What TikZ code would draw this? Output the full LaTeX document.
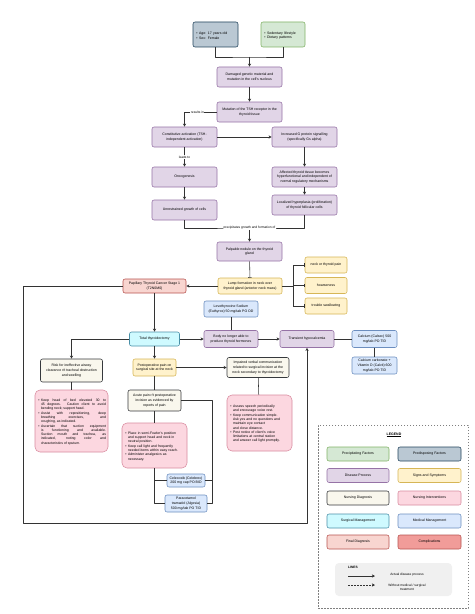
\documentclass[tikz,border=0pt]{standalone}
\usepackage{fontspec}
\setmainfont{Liberation Sans}
\usepackage{enumitem}
\setlist[itemize]{nosep,leftmargin=8pt,labelsep=3pt,label=\textbullet}
\usetikzlibrary{arrows.meta}
\definecolor{lnc}{HTML}{333333}
\definecolor{predisF}{HTML}{BAC8D3} \definecolor{predisD}{HTML}{23445D}
\definecolor{precipF}{HTML}{D5E8D4} \definecolor{precipD}{HTML}{82B366}
\definecolor{diseaseF}{HTML}{E1D5E7} \definecolor{diseaseD}{HTML}{9673A6}
\definecolor{signsF}{HTML}{FFF2CC} \definecolor{signsD}{HTML}{D6B656}
\definecolor{nursdxF}{HTML}{F9F7ED} \definecolor{nursdxD}{HTML}{36393D}
\definecolor{nursintF}{HTML}{FCD7E0} \definecolor{nursintD}{HTML}{D98CA0}
\definecolor{surgF}{HTML}{CFFAFF} \definecolor{surgD}{HTML}{4A90A8}
\definecolor{medF}{HTML}{DAE8FC} \definecolor{medD}{HTML}{6C8EBF}
\definecolor{finaldxF}{HTML}{F8D5D0} \definecolor{finaldxD}{HTML}{B85450}
\definecolor{complF}{HTML}{F19C99} \definecolor{complD}{HTML}{B85450}
\hyphenpenalty=10000 \exhyphenpenalty=10000
\tikzset{
	box/.style={draw, rounded corners=4pt, line width=1.1pt, inner xsep=2pt, inner ysep=1pt, align=center, font=\fontsize{7}{9.4}\selectfont},
	sz/.code 2 args={\pgfmathsetmacro\mw{#1*2}\pgfmathsetmacro\mh{#2*2}\tikzset{minimum width=\mw pt, minimum height=\mh pt}},
	wh/.code 2 args={\pgfmathsetmacro\tw{#1*2-8}\pgfmathsetmacro\mh{#2*2}\tikzset{inner xsep=4pt, text width=\tw pt, minimum height=\mh pt}},
	predis/.style={box, fill=predisF, draw=predisD},
	precip/.style={box, fill=precipF, draw=precipD},
	disease/.style={box, fill=diseaseF, draw=diseaseD},
	signs/.style={box, fill=signsF, draw=signsD},
	nursdx/.style={box, fill=nursdxF, draw=nursdxD},
	nursint/.style={box, rounded corners=10pt, fill=nursintF, draw=nursintD, font=\fontsize{6.9}{8.6}\selectfont},
	surg/.style={box, fill=surgF, draw=surgD},
	med/.style={box, fill=medF, draw=medD},
	finaldx/.style={box, fill=finaldxF, draw=finaldxD},
	compl/.style={box, fill=complF, draw=complD},
	lbl/.style={fill=white, inner sep=1pt, font=\fontsize{6.5}{7}\selectfont},
}
\begin{document}
\begin{tikzpicture}[x=2pt, y=-2pt, line width=1.1pt, draw=lnc, line join=round, >={Stealth[length=6pt,width=6pt,inset=1.5pt]}]
	\useasboundingbox[fill=white] (0,0) rectangle (474,614);
	% factors and disease process
	\node[predis, wh={45}{25}, align=left] (age) at (215.5,34.5) {\begin{itemize}\item Age: 17 years old \item Sex: Female\end{itemize}};
	\node[precip, wh={44}{25}, align=left] (sed) at (283,34.5) {\begin{itemize}\item Sedentary lifestyle \item Dietary patterns\end{itemize}};
	\node[disease, sz={65}{20}] (dmg) at (249.5,77) {Damaged genetic material and\\mutation in the cell's nucleus};
	\node[disease, sz={65}{20}] (mut) at (249.5,112) {Mutation of the TSH receptor in the\\thyroid tissue};
	\node[disease, sz={65}{20}] (const) at (184.5,137) {Constitutive activation (TSH-\\independent activation)};
	\node[disease, sz={65}{20}] (incr) at (304.5,137) {Increased G protein signalling\\(specifically Gs alpha)};
	\node[disease, sz={65}{20}] (onco) at (184.5,177) {Oncogenesis};
	\node[disease, sz={65}{20}] (unr) at (184.5,210) {Unrestrained growth of cells};
	\node[disease, sz={65}{20}] (aff) at (304.5,177) {Affected thyroid tissue becomes\\hyperfunctional and independent of\\normal regulatory mechanisms};
	\node[disease, sz={65}{20}] (loc) at (304.5,205) {Localized hyperplasia (proliferation)\\of thyroid follicular cells};
	\node[disease, sz={65}{19}] (palp) at (249.5,251.5) {Palpable nodule on the thyroid\\gland};
	\node[signs, sz={64}{16}] (lump) at (250,286) {Lump formation in neck over\\thyroid gland (anterior neck mass)};
	\foreach \s/\y/\t in {s1/265/neck or thyroid pain, s2/285.5/hoarseness, s3/306/trouble swallowing}
		\node[signs, sz={42}{16}] (\s) at (326,\y) {\t};
	\node[finaldx, sz={63}{14}] (ptc) at (154.5,286) {Papillary Thyroid Cancer Stage 1\\(T2N0M0)};
	\node[surg, sz={50}{14}] (tt) at (154.5,339) {Total thyroidectomy};
	\node[med, sz={54}{16}] (levo) at (231,309) {Levothyroxine Sodium\\(Euthyrox) 50 mg/tab PO OD};
	\node[disease, sz={54}{17}] (body) at (231,339) {Body no longer able to\\produce thyroid hormones};
	\node[disease, sz={54}{17}] (hypo) at (307,339) {Transient hypocalcemia};
	\node[med, sz={45}{17}] (calsec) at (374.5,339) {Calcium (Calsec) 500\\mg/tab PO TID};
	\node[med, sz={45}{17}] (calvit) at (374.5,365.5) {Calcium carbonate +\\Vitamin D (Calvit) 600\\mg/tab PO TID};
	% nursing care
	\node[nursdx, sz={62}{23}] (risk) at (71.5,370.5) {Risk for ineffective airway\\clearance r/t tracheal obstruction\\and swelling};
	\node[nursint, wh={73}{62}, align=justify] (riskint) at (71.5,421) {\begin{itemize}
		\item Keep head of bed elevated 30 to\linebreak 45 degrees. Caution client to avoid\linebreak bending neck; support head.
		\item Assist with repositioning, deep\linebreak breathing exercises, and\linebreak coughing, as indicated.
		\item Ascertain that suction equipment\linebreak is functioning and available.\linebreak Suction mouth and trachea, as\linebreak indicated, noting color and\linebreak characteristics of sputum.\end{itemize}};
	\node[signs, sz={43}{17}] (pain) at (154.5,367.5) {Postoperative pain on\\surgical site at the neck};
	\node[nursdx, sz={53}{21}] (acute) at (154.5,400.5) {Acute pain r/t postoperative\\incision as evidenced by\\reports of pain};
	\node[nursint, wh={65}{45}, align=left] (painint) at (154.5,445.5) {\begin{itemize}
		\item Place in semi-Fowler's position\\and support head and neck in\\neutral position.
		\item Keep call light and frequently\\needed items within easy reach.
		\item Administer analgesics as\\necessary.\end{itemize}};
	\node[med, sz={38}{13}] (cele) at (186,480.5) {Celecoxib (Celebrex)\\200 mg cap PO BID};
	\node[med, sz={42}{17}] (para) at (186,503.5) {Paracetamol\\tramadol (Algesia)\\500 mg/tab PO TID};
	\node[nursdx, sz={62}{20}] (verbal) at (258,367.5) {Impaired verbal communication\\related to surgical incision at the\\neck secondary to thyroidectomy};
	\node[nursint, wh={65}{56}, align=left] (verbint) at (259.5,423) {\begin{itemize}
		\item Assess speech periodically\\and encourage voice rest.
		\item Keep communication simple.\\Ask yes and no questions and\\maintain eye contact\\and close distance.
		\item Post notice of client's voice\\limitations at central station\\and answer call light promptly.\end{itemize}};
	% connectors
	\coordinate (j1) at (249.5,57);
	\draw (age.south) |- (j1) -| (sed.south);
	\draw[->] (j1) -- (dmg);
	\draw[->] (dmg) -- (mut);
	\draw[->] (mut.west) -| node[lbl, pos=.3]{results in} (const.north);
	\draw[->] (const) -- (incr);
	\draw[->] (const) -- node[lbl]{leads to} (onco);
	\draw[->] (onco) -- (unr);
	\draw[->] (incr) -- (aff);
	\draw[->] (aff) -- (loc);
	\coordinate (j2) at (249.5,228);
	\draw (unr.south) |- (j2) -| (loc.south);
	\draw[->] (j2) -- (palp);
	\node[lbl] (lbl2) at (j2) {precipitates growth and formation of};
	\draw[-{Bar[width=7pt]}] (palp) -- (lump);
	\coordinate (j3) at (293,286);
	\draw (lump.east) -- (j3);
	\draw (j3 |- s1) -- (j3 |- s3);
	\foreach \s in {s1,s2,s3} \draw[-{Bar[width=7pt]}] (j3 |- \s) -- (\s.west);
	\draw[->] (lump) -- (ptc);
	\draw[->] (ptc) -- (tt);
	\draw[->] (tt) -- (body);
	\draw (levo) -- (body);
	\draw[->] (body) -- (hypo);
	\draw (hypo) -- (calsec);
	\draw (calsec) -- (calvit);
	\draw[->] (tt.west) -| (risk.north);
	\draw (risk) -- (riskint);
	\draw[->] (tt) -- (pain);
	\draw[->] (pain.east) -- (pain.east -| verbal.west);
	\draw (pain) -- (acute);
	\draw (acute) -- (painint);
	\draw (verbal) -- (verbint);
	\coordinate (j4) at (212,503.5);
	\draw (acute.east) -| (j4) -- (para.east);
	\draw (cele.east) -- (cele.east -| j4);
	\coordinate (j5) at (154.5,503.5);
	\draw (painint.south) -- (j5) -- (para.west);
	\draw (cele.west) -- (cele.west -| j5);
	\coordinate (j6) at (23,523);
	\draw[->] (ptc.west) -| (j6) -| (hypo.south);
	% legend
	\node[draw=gray, dashed, line width=1pt, minimum width=300pt, minimum height=366pt] (leg) at (393,516.5) {};
	\node[font=\fontsize{7}{8}\selectfont\bfseries] (legtitle) at (394,435) {\underline{LEGEND}};
	\foreach \y/\sa/\ta/\sb/\tb [count=\i] in {454/precip/Precipitating Factors/predis/Predisposing Factors, 475.5/disease/Disease Process/signs/Signs and Symptoms, 498/nursdx/Nursing Diagnosis/nursint/Nursing Interventions, 521/surg/Surgical Management/med/Medical Management, 542/finaldx/Final Diagnosis/compl/Complications}{
		\node[\sa, rounded corners=4pt, font=\fontsize{7}{8}\selectfont, sz={62}{14}] (lgl\i) at (358,\y) {\ta};
		\node[\sb, rounded corners=4pt, font=\fontsize{7}{8}\selectfont, sz={63}{14}] (lgr\i) at (429.5,\y) {\tb};
	}
	\node[fill=gray!12, rounded corners=8pt, minimum width=234pt, minimum height=66pt] (lnbox) at (393.5,579.5) {};
	\node[font=\fontsize{6.5}{7}\selectfont\bfseries] (lntitle) at (353,567.5) {LINES};
	\coordinate (la) at (348,576); \coordinate (lb) at (375,576);
	\coordinate (lc) at (348,585); \coordinate (ld) at (375,585);
	\draw[->] (la) -- (lb);
	\draw[->, dashed] (lc) -- (ld);
	\node[font=\fontsize{6.5}{7.5}\selectfont] (lt1) at (407,575) {Actual disease process};
	\node[font=\fontsize{6.5}{7.5}\selectfont, align=center] (lt2) at (407,587.5) {Without medical / surgical\\treatment};
\end{tikzpicture}
\end{document}
